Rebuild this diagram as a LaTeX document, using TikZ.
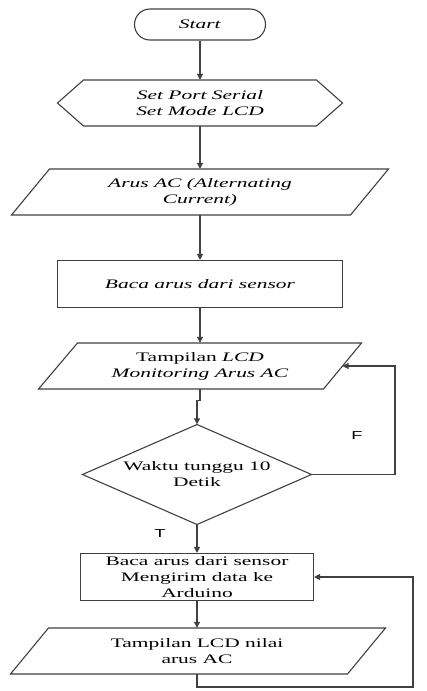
\documentclass[tikz,border=0pt]{standalone}
\usepackage{fontspec}
\setmainfont{Liberation Serif}[FakeStretch=1.65]
\newfontfamily\lblfont{Liberation Sans}[FakeStretch=1.6]
\usetikzlibrary{shapes.misc,arrows.meta}
\begin{document}
\begin{tikzpicture}[x=1pt,y=-1pt,
  ln/.style={draw=black!75,line width=1.1pt},
  arr/.style={ln,-{Triangle[length=6pt,width=6pt]}},
  txt/.style={inner sep=0pt,align=center,font=\fontsize{13}{16}\selectfont},
  lbl/.style={inner sep=0pt,font=\lblfont\fontsize{11.5}{13}\selectfont}]
\useasboundingbox (0,0) rectangle (426,691);
% Start
\node[txt,rounded rectangle,ln,minimum width=131pt,minimum height=31pt] (start) at (200,24.5) {\textit{Start}};
% Preparation hexagon
\node[txt,minimum width=285pt,minimum height=46pt] (prep) at (200,103) {\textit{Set Port Serial}\\\textit{Set Mode LCD}};
\draw[ln] (57.5,103) -- (83.5,80) -- (316.5,80) -- (342.5,103) -- (316.5,126) -- (83.5,126) -- cycle;
% Input Arus AC
\node[txt,minimum width=377pt,minimum height=46pt] (io1) at (200,192) {\textit{Arus AC (Alternating}\\\textit{Current)}};
\draw[ln] (49.5,169) -- (388.5,169) -- (350.5,215) -- (11.5,215) -- cycle;
% Baca arus
\node[txt,ln,rectangle,minimum width=285pt,minimum height=47pt] (rect1) at (200,284) {\textit{Baca arus dari sensor}};
% Tampilan LCD monitoring
\node[txt,minimum width=323pt,minimum height=46pt] (io2) at (200,366) {Tampilan \textit{LCD}\\\textit{Monitoring Arus AC}};
\draw[ln] (77.5,343) -- (361.5,343) -- (323.5,389) -- (38.5,389) -- cycle;
\coordinate (io2r) at (342.5,366);
% Decision
\node[txt,minimum width=229pt,minimum height=100pt] (dec) at (197,474.5) {Waktu tunggu 10\\Detik};
\draw[ln] (197,424.5) -- (311.5,474.5) -- (197,524.5) -- (82.5,474.5) -- cycle;
% Baca arus / kirim
\node[txt,ln,rectangle,minimum width=233pt,minimum height=47pt] (rect2) at (197,577) {Baca arus dari sensor\\Mengirim data ke\\Arduino};
% Tampilan LCD nilai
\node[txt,minimum width=337pt,minimum height=46pt] (io3) at (197,651) {Tampilan LCD nilai\\arus AC};
\draw[ln] (48.5,628) -- (385.5,628) -- (347.5,674) -- (10.5,674) -- cycle;
% Labels
\node[lbl] (lF) at (357,436) {F};
\node[lbl] (lT) at (160,534) {T};
% Connectors
\draw[arr] (start.south) -- (prep.north);
\draw[arr] (prep.south) -- (io1.north);
\draw[arr] (io1.south) -- (rect1.north);
\draw[arr] (rect1.south) -- (io2.north);
\draw[arr] (io2.south) -- ++(0,11) -| (dec.north);
\draw[arr] (dec.east) -- (395,474.5) |- (io2r);
\draw[arr] (dec.south) -- (rect2.north);
\draw[arr] (rect2.south) -- (io3.north);
\draw[arr] (io3.south) -- (197,687) -- (413,687) |- (rect2.east);
\end{tikzpicture}
\end{document}
